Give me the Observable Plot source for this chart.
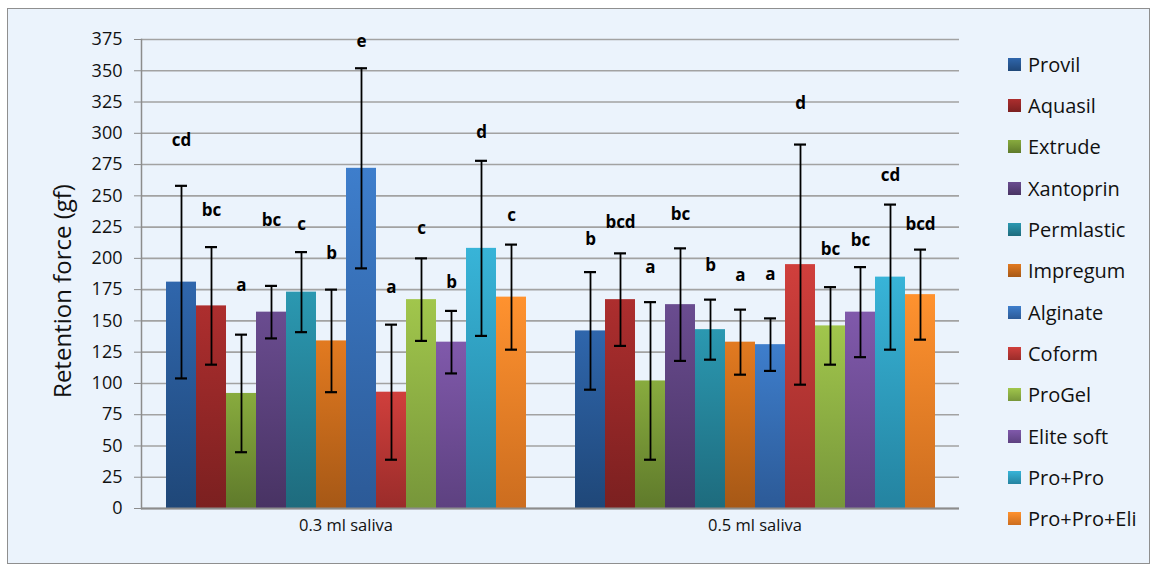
<!DOCTYPE html>
<html>
<head>
<meta charset="utf-8">
<script src="https://cdn.jsdelivr.net/npm/d3@7"></script>
<script src="https://cdn.jsdelivr.net/npm/@observablehq/plot@0.6"></script>
<style>
html, body { margin: 0; padding: 0; background: #fff; }
#page { position: relative; width: 1157px; height: 570px; overflow: hidden; font-family: "Open Sans", sans-serif; }
#frame { position: absolute; left: 7px; top: 8px; width: 1141px; height: 554px; border: 1px solid #8f8f8f; background: #EBF3FC; }
#chart { position: absolute; left: 0; top: 0; }
#legend { position: absolute; left: 1008px; top: 0; }
.item { position: absolute; left: 0; height: 28px; display: flex; align-items: center; white-space: nowrap; font-size: 20px; color: #111; }
.sw { width: 13px; height: 13px; margin-right: 7px; }
</style>
</head>
<body>
<div id="page">
  <div id="frame"></div>
  <svg id="defs" width="0" height="0" style="position:absolute;left:0;top:0"><defs></defs></svg>
  <div id="chart"></div>
  <div id="legend"></div>
</div>
<script>
// ---- data ----
const groups = ["0.3 ml saliva", "0.5 ml saliva"];
const materials = ["Provil", "Aquasil", "Extrude", "Xantoprin", "Permlastic", "Impregum",
                   "Alginate", "Coform", "ProGel", "Elite soft", "Pro+Pro", "Pro+Pro+Eli"];
const mean03 = [181, 162, 92, 157, 173, 134, 272, 93, 167, 133, 208, 169];
const sd03   = [77, 47, 47, 21, 32, 41, 80, 54, 33, 25, 70, 42];
const mean05 = [142, 167, 102, 163, 143, 133, 131, 195, 146, 157, 185, 171];
const sd05   = [47, 37, 63, 45, 24, 26, 21, 96, 31, 36, 58, 36];
const letters03 = ["cd", "bc", "a", "bc", "c", "b", "e", "a", "c", "b", "d", "c"];
const letterY03 = [294, 238, 178, 230, 227, 204, 373, 177, 224, 181, 301, 234];
const letters05 = ["b", "bcd", "a", "bc", "b", "a", "a", "d", "bc", "bc", "cd", "bcd"];
const letterY05 = [215, 229, 193, 235, 194, 186, 187, 324, 207, 214, 266, 227];
const yTicks = d3.range(0, 376, 25);
const yTitle = "Retention force (gf)";

// ---- styles ----
const colorTop = ["#2F66AC", "#AD2E2E", "#88AB3E", "#6A4C90", "#2B98B1", "#E27A20",
                  "#3E7ECC", "#D03F3C", "#A1C64C", "#8059AB", "#38B4D8", "#FF922F"];
const colorBottom = ["#1F4778", "#7B2020", "#5F7A2B", "#483363", "#1E6B7D", "#A65816",
                     "#2C5A97", "#9A2C2A", "#77963A", "#5D4180", "#2483A0", "#CC6D1F"];

// gradients
const defs = d3.select("#defs defs");
materials.forEach((m, i) => {
  const g = defs.append("linearGradient").attr("id", "grad" + i)
    .attr("x1", 0).attr("y1", 0).attr("x2", 0).attr("y2", 1);
  g.append("stop").attr("offset", "0%").attr("stop-color", colorTop[i]);
  g.append("stop").attr("offset", "100%").attr("stop-color", colorBottom[i]);
});

const means = [mean03, mean05], sds = [sd03, sd05];
const letters = [letters03, letters05], letterYs = [letterY03, letterY05];
const data = [];
groups.forEach((g, gi) => materials.forEach((m, i) => data.push({
  group: g, material: m, index: i,
  mean: means[gi][i], sd: sds[gi][i],
  letter: letters[gi][i], letterY: letterYs[gi][i]
})));

const chart = Plot.plot({
  width: 975, height: 570,
  marginLeft: 140, marginRight: 16, marginTop: 39, marginBottom: 62,
  style: { background: "transparent", fontFamily: "'Open Sans', sans-serif", fontSize: "18px", color: "#111", overflow: "visible" },
  fx: { domain: groups, padding: 0, label: null },
  x: { domain: materials, paddingInner: 0, paddingOuter: 0.746, axis: null },
  y: { domain: [0, 375], axis: null },
  marks: [
    Plot.gridY(yTicks, { stroke: "#a2a2a2", strokeOpacity: 1, strokeWidth: 1.6 }),
    Plot.axisY(yTicks, { tickSize: 7, tickPadding: 12, color: "#111", stroke: "#8c8c8c", label: null }),
    Plot.axisFx({ anchor: "bottom", tickSize: 0, tickPadding: 11, color: "#111", label: null }),
    Plot.frame({ anchor: "left", facetAnchor: "left", stroke: "#8c8c8c", strokeWidth: 1.5 }),
    Plot.barY(data, { fx: "group", x: "material", y: "mean", fill: d => `url(#grad${d.index})` }),
    Plot.ruleY([0], { stroke: "#8c8c8c", strokeWidth: 2 }),
    Plot.ruleX(data, { fx: "group", x: "material", y1: d => d.mean - d.sd, y2: d => d.mean + d.sd, stroke: "#000", strokeWidth: 1.8 }),
    Plot.tickY(data, { fx: "group", x: "material", y: d => d.mean - d.sd, insetLeft: 9, insetRight: 9, stroke: "#000", strokeWidth: 2.2 }),
    Plot.tickY(data, { fx: "group", x: "material", y: d => d.mean + d.sd, insetLeft: 9, insetRight: 9, stroke: "#000", strokeWidth: 2.2 }),
    Plot.text(data, { fx: "group", x: "material", y: "letterY", text: "letter", fontWeight: "bold", fontSize: 17, fill: "#000" }),
    Plot.text([groups[0]], { fx: d => d, frameAnchor: "left", text: () => yTitle, rotate: -90, textAnchor: "middle", dx: -78, dy: 17, fontSize: 24, fill: "#111" })
  ]
});
d3.select(chart).selectAll("text")
  .filter(function () { return groups.includes(this.textContent.trim()); })
  .style("font-size", "16.5px");
document.getElementById("chart").appendChild(chart);

// legend
const legend = d3.select("#legend");
materials.forEach((m, i) => {
  const it = legend.append("div").attr("class", "item").style("top", (64.3 + 41.3 * i - 14) + "px");
  it.append("div").attr("class", "sw").style("background", `linear-gradient(${colorTop[i]}, ${colorBottom[i]})`);
  it.append("span").text(m);
});
</script>
</body>
</html>
